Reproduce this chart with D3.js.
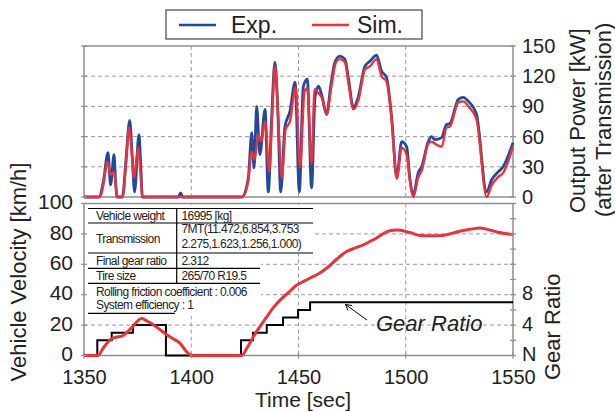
<!DOCTYPE html>
<html>
<head>
<meta charset="utf-8">
<script src="https://cdn.jsdelivr.net/npm/d3@7"></script>
<style>
  html, body { margin: 0; padding: 0; background: #ffffff; }
  svg { display: block; font-family: "Liberation Sans", Arial, sans-serif; }
</style>
</head>
<body>
<div class="chart"></div>
<script>
/* Output power, experiment (blue) */
var expTime = [1350, 1357, 1359, 1361.2, 1362.4, 1364, 1364.8, 1365.5, 1367.9, 1369.5,
  1371.3, 1372.5, 1373.6, 1375.6, 1376.5, 1377.2, 1394, 1395, 1396, 1423.5,
  1426.6, 1428.2, 1429.3, 1430.5, 1432, 1434.4, 1435.9, 1437.5, 1439, 1440.3,
  1441.7, 1443.7, 1446, 1448.4, 1450.4, 1452.2, 1454.1, 1456.1, 1457.7, 1459.3,
  1461, 1463.1, 1465, 1467, 1469.3, 1471.6, 1473.5, 1475.5, 1477.8, 1481,
  1483.4, 1486.4, 1488.7, 1491, 1493.4, 1495.8, 1498.1, 1500.4, 1502, 1503.5,
  1505.8, 1507.4, 1510.5, 1512, 1513.6, 1516.7, 1519, 1520.6, 1524.5, 1526.8,
  1529.2, 1533, 1537.7, 1540, 1543.1, 1545.4, 1550];
var expPower = [0, 0, 15, 44, 12, 42, 12, 0, 0, 35,
  76, 40, 5, 62, 30, 0, 0, 4, 0, 0,
  19, 64, 29, 90, 42, 87, 5, 80, 134, 90,
  5, 70, 85, 114, 5, 109, 117, 9, 99, 110,
  100, 82, 110, 134, 140, 137, 115, 89, 99, 130,
  135, 141, 125, 119, 80, 20, 55, 50, 17, 2,
  24, 30, 55, 60, 57, 59, 72, 73, 97, 99,
  95, 82, 5, 17, 25, 30, 54];

/* Output power, simulation (red) */
var simTime = [1350, 1357.5, 1359, 1360.9, 1362.4, 1364, 1365.5, 1368, 1369.5, 1371,
  1372.2, 1373.3, 1375.3, 1376.3, 1377.2, 1423.8, 1426.5, 1428.2, 1429.5, 1431.3,
  1432.6, 1434.4, 1436.4, 1437.7, 1439, 1440.5, 1442.2, 1444, 1446, 1448.7,
  1450.7, 1452.8, 1454.1, 1456.1, 1457.5, 1459, 1461, 1463.1, 1465.5, 1467.5,
  1469.3, 1471.6, 1473.5, 1475.5, 1478, 1481, 1483.4, 1486.4, 1488.7, 1491,
  1493.4, 1495.8, 1498.1, 1500.4, 1502, 1503.5, 1505.9, 1507.4, 1510.5, 1512.1,
  1513.6, 1516.8, 1519, 1520.6, 1524.5, 1526.8, 1529.2, 1533, 1537.7, 1540.1,
  1543.1, 1545.4, 1550];
var simPower = [0, 0, 12, 35, 22, 25, 0, 0, 30, 69,
  45, 19, 49, 25, 0, 0, 15, 45, 37, 62,
  55, 75, 25, 80, 130, 80, 19, 67, 75, 109,
  29, 105, 108, 33, 107, 104, 98, 82, 112, 134,
  137, 134, 110, 87, 97, 127, 130, 137, 120, 115,
  77, 18, 49, 42, 15, 0, 20, 26, 53, 55,
  53, 50, 69, 70, 94, 95, 90, 77, 0, 12,
  20, 24, 50];

/* Vehicle velocity [km/h] */
var velTime = [1350, 1356.5, 1359, 1362.9, 1365, 1368, 1372, 1376.9, 1379, 1381.5,
  1384.5, 1387.8, 1391, 1394.8, 1397.5, 1399.5, 1400.5, 1423.5, 1426, 1428.8,
  1432, 1435.2, 1438, 1441.4, 1445, 1449.2, 1452, 1455.4, 1459, 1463.1,
  1467.5, 1472.4, 1476, 1480.2, 1486, 1492.6, 1496, 1500.4, 1503, 1506.6,
  1512, 1517.5, 1521, 1525.2, 1530, 1534.6, 1538, 1542.4, 1546, 1550];
var velocity = [0, 0, 5, 11, 12, 13, 18, 24.3, 23, 21,
  18, 14.5, 11.5, 8, 3, 0.5, 0, 0, 5, 12,
  19, 25.4, 31, 36.4, 41, 46.4, 48.5, 51, 53.5, 57.4,
  63, 68.4, 70.5, 72.8, 77, 82.1, 82.5, 81.5, 80.5, 79,
  78.8, 79, 80.2, 81.7, 83, 83.9, 83, 81.3, 80.3, 79.7];

/* Selected gear (0 = neutral) */
var gearTime = [1350, 1356.2, 1362.9, 1372.8, 1388.2, 1423.2, 1428.8, 1435.2, 1442.8, 1449.8, 1455.4, 1550];
var gearNum = [0, 2, 3, 4, 0, 2, 3, 4, 5, 6, 7, 7];

var timeTicks = [1350, 1400, 1450, 1500, 1550];
var powerTicks = [0, 30, 60, 90, 120, 150];
var velocityTicks = [0, 20, 40, 60, 80, 100];
var gearTicks = [0, 4, 8];
var gearLabels = {0: "N", 4: "4", 8: "8"};

var tableRows = [
  ["Vehicle weight", "16995    [kg]"],
  ["Transmission", "7MT(11.472,6.854,3.753", "2.275,1.623,1.256,1.000)"],
  ["Final gear ratio", "2.312"],
  ["Tire size", "265/70 R19.5"]
];
var tableNotes = ["Rolling friction coefficient : 0.006", "System efficiency : 1"];

var BLUE = "#23499c";
var RED = "#e8323c";
var GRID = "#9a9a9a";
var FRAME = "#8f8f8f";
var INK = "#222222";

var W = 615, H = 412;
var svg = d3.select("div.chart").append("svg").attr("width", W).attr("height", H);

var x = d3.scaleLinear().domain([1350, 1550]).range([84, 513]);
var yPow = d3.scaleLinear().domain([0, 150]).range([197, 46]);
var yVel = d3.scaleLinear().domain([0, 100]).range([355.5, 203.5]);
var yGear = d3.scaleLinear().domain([0, 20]).range([355.5, 203.5]);

function zip(ts, vs) {
  return ts.map(function pair(t, i) { return [t, vs[i]]; });
}

/* ---- gridlines ---- */
function drawGrid(yScale, values, y0, y1) {
  var g = svg.append("g").attr("stroke", GRID).attr("stroke-width", 1)
             .attr("stroke-dasharray", "4,3");
  values.forEach(function eachY(v) {
    g.append("line").attr("x1", x(1350)).attr("x2", x(1550))
     .attr("y1", yScale(v)).attr("y2", yScale(v));
  });
  [1400, 1450, 1500].forEach(function eachX(t) {
    g.append("line").attr("x1", x(t)).attr("x2", x(t)).attr("y1", y0).attr("y2", y1);
  });
}
drawGrid(yPow, [30, 60, 90, 120], yPow(150), yPow(0));
drawGrid(yVel, [20, 40, 60, 80], yVel(100), yVel(0));

/* ---- table box (white, hides grid) ---- */
svg.append("rect").attr("x", 85).attr("y", 205).attr("width", 228).attr("height", 49).attr("fill", "#fff");
svg.append("rect").attr("x", 85).attr("y", 254).attr("width", 176).attr("height", 62).attr("fill", "#fff");

var tbl = svg.append("g").attr("stroke", "#000").attr("stroke-width", 1.2);
[[208.5, 313], [223, 313], [253, 313], [268.3, 260], [283.3, 260], [313.3, 175]].forEach(function eachRule(r) {
  tbl.append("line").attr("x1", 88).attr("x2", r[1]).attr("y1", r[0]).attr("y2", r[0]);
});
tbl.append("line").attr("x1", 176.7).attr("x2", 176.7).attr("y1", 208.5).attr("y2", 283.3);

var tt = svg.append("g").attr("font-size", 12).attr("fill", INK).attr("letter-spacing", -0.6);
var rowBase = [[220], [243.3, 233.3, 248.3], [265], [280]];
tableRows.forEach(function eachRow(row, i) {
  var b = rowBase[i];
  tt.append("text").attr("x", 96).attr("y", b[0]).text(row[0]);
  tt.append("text").attr("x", 181.5).attr("y", b.length > 1 ? b[1] : b[0]).text(row[1]);
  if (row[2]) tt.append("text").attr("x", 181.5).attr("y", b[2]).text(row[2]);
});
tableNotes.forEach(function eachNote(n, i) {
  tt.append("text").attr("x", 96).attr("y", 295.7 + i * 13.6).text(n);
});

/* ---- frames ---- */
[[yPow(150), yPow(0)], [yVel(100), yVel(0)]].forEach(function eachFrame(f) {
  svg.append("rect").attr("x", x(1350)).attr("y", f[0])
     .attr("width", x(1550) - x(1350)).attr("height", f[1] - f[0])
     .attr("fill", "none").attr("stroke", FRAME).attr("stroke-width", 1.5);
});

/* ---- data lines ---- */
var lineOf = function lineOf(yScale) {
  return d3.line().x(function (d) { return x(d[0]); }).y(function (d) { return yScale(d[1]); })
           .curve(d3.curveMonotoneX);
};
svg.append("path").datum(zip(expTime, expPower)).attr("d", lineOf(yPow))
   .attr("fill", "none").attr("stroke", BLUE).attr("stroke-width", 2.8).attr("stroke-linejoin", "round");
svg.append("path").datum(zip(simTime, simPower)).attr("d", lineOf(yPow))
   .attr("fill", "none").attr("stroke", RED).attr("stroke-width", 2.4).attr("stroke-linejoin", "round");

svg.append("path").datum(zip(gearTime, gearNum))
   .attr("d", d3.line().x(function (d) { return x(d[0]); }).y(function (d) { return yGear(d[1]); })
                .curve(d3.curveStepAfter))
   .attr("fill", "none").attr("stroke", "#000").attr("stroke-width", 2);
svg.append("path").datum(zip(velTime, velocity)).attr("d", lineOf(yVel))
   .attr("fill", "none").attr("stroke", RED).attr("stroke-width", 3).attr("stroke-linejoin", "round");

/* ---- axes ---- */
function styleAxis(g, size) {
  g.select(".domain").remove();
  g.selectAll("text").attr("font-size", size).attr("fill", INK)
   .attr("font-family", "'Liberation Sans', Arial, sans-serif");
}

svg.append("g").attr("transform", "translate(" + x(1550) + ",0)")
   .call(d3.axisRight(yPow).tickValues(powerTicks).tickSize(0).tickPadding(9))
   .call(styleAxis, 20);
svg.append("g").attr("transform", "translate(" + x(1350) + ",0)")
   .call(d3.axisLeft(yVel).tickValues(velocityTicks).tickSize(0).tickPadding(11))
   .call(styleAxis, 21)
   .selectAll("text").attr("dy", "0.25em");
svg.append("g").attr("transform", "translate(" + x(1550) + ",0)")
   .call(d3.axisRight(yGear).tickValues(gearTicks).tickSize(0).tickPadding(9)
           .tickFormat(function (d) { return gearLabels[d]; }))
   .call(styleAxis, 20)
   .selectAll("text").attr("dy", "0.25em");
svg.append("g").attr("transform", "translate(0," + yVel(0) + ")")
   .call(d3.axisBottom(x).tickValues(timeTicks).tickSize(0).tickPadding(14).tickFormat(d3.format("d")))
   .call(styleAxis, 20);

/* small tick marks across the frames */
var tk = svg.append("g").attr("stroke", FRAME).attr("stroke-width", 1.2);
powerTicks.forEach(function (v) {
  tk.append("line").attr("x1", x(1350) - 3).attr("x2", x(1350) + 3).attr("y1", yPow(v)).attr("y2", yPow(v));
  tk.append("line").attr("x1", x(1550) - 3).attr("x2", x(1550) + 3).attr("y1", yPow(v)).attr("y2", yPow(v));
});
velocityTicks.forEach(function (v) {
  tk.append("line").attr("x1", x(1350) - 3).attr("x2", x(1350) + 3).attr("y1", yVel(v)).attr("y2", yVel(v));
});
d3.range(0, 21, 2).forEach(function (g) {
  tk.append("line").attr("x1", x(1550) - 3).attr("x2", x(1550) + 3).attr("y1", yGear(g)).attr("y2", yGear(g));
});
timeTicks.forEach(function (t) {
  tk.append("line").attr("x1", x(t)).attr("x2", x(t)).attr("y1", yVel(0) - 3).attr("y2", yVel(0) + 3);
});

/* ---- axis titles ---- */
svg.append("text").attr("x", 303).attr("y", 407).attr("text-anchor", "middle")
   .attr("font-size", 21).attr("fill", INK).text("Time [sec]");
svg.append("text").attr("transform", "translate(26,272) rotate(-90)").attr("text-anchor", "middle")
   .attr("font-size", 22).attr("fill", INK).text("Vehicle Velocity [km/h]");
svg.append("text").attr("transform", "translate(585,213) rotate(-90)")
   .attr("font-size", 22).attr("fill", INK).text("Output Power [kW]");
svg.append("text").attr("transform", "translate(611,217) rotate(-90)")
   .attr("font-size", 22).attr("fill", INK).text("(after Transmission)");
svg.append("text").attr("transform", "translate(560,380) rotate(-90)")
   .attr("font-size", 22).attr("fill", INK).text("Gear Ratio");

/* ---- gear ratio annotation ---- */
svg.append("text").attr("x", 376).attr("y", 331).attr("font-size", 22).attr("font-style", "italic")
   .attr("fill", INK).text("Gear Ratio");
svg.append("line").attr("x1", 367).attr("y1", 320).attr("x2", 345.5).attr("y2", 304.5)
   .attr("stroke", "#000").attr("stroke-width", 1);
svg.append("path").attr("d", "M352,305.5 L345.5,304.5 L348,310.5")
   .attr("fill", "none").attr("stroke", "#000").attr("stroke-width", 1);

/* ---- legend ---- */
var lg = svg.append("g");
lg.append("rect").attr("x", 166).attr("y", 10).attr("width", 256).attr("height", 29)
  .attr("fill", "#fff").attr("stroke", "#444").attr("stroke-width", 1.2);
[[BLUE, 179, "Exp.", 231], [RED, 312, "Sim.", 357]].forEach(function (e) {
  lg.append("line").attr("x1", e[1]).attr("x2", e[1] + 37).attr("y1", 25).attr("y2", 25)
    .attr("stroke", e[0]).attr("stroke-width", 2.5);
  lg.append("text").attr("x", e[3]).attr("y", 33).attr("font-size", 23).attr("fill", INK).text(e[2]);
});
</script>
</body>
</html>
